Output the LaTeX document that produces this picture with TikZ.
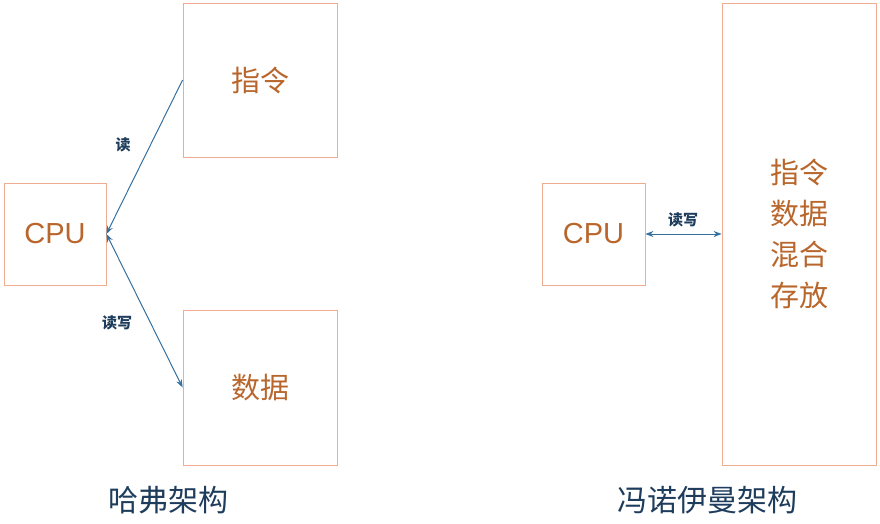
\documentclass[tikz,border=0pt]{standalone}
\usepackage{fontspec}
\setmainfont{Liberation Sans}
\newfontfamily\cjk{Noto Sans CJK SC}
\usetikzlibrary{arrows.meta}
\definecolor{boxline}{RGB}{240,172,145}
\definecolor{boxtext}{RGB}{184,102,44}
\definecolor{wire}{RGB}{52,112,160}
\definecolor{title}{RGB}{30,60,92}
\begin{document}
\begin{tikzpicture}[x=1pt,y=-1pt,
    unit/.style={draw=boxline,line width=0.8pt,text=boxtext,inner sep=0pt,
      font=\fontsize{29}{41}\selectfont\cjk},
    tag/.style={text=title,font=\fontsize{15}{15}\selectfont\cjk\bfseries},
    caption/.style={text=title,font=\fontsize{30}{30}\selectfont\cjk},
    wire/.style={draw=wire,line width=1pt}]
  \useasboundingbox (0,0) rectangle (880,523);
  % Harvard
  \node[unit,minimum width=102pt,minimum height=102pt] (cpuL) at (55,234)
    {\fontsize{29}{29}\selectfont\rmfamily CPU};
  \node[unit,minimum width=154pt,minimum height=154pt] (inst) at (260,80) {指令};
  \node[unit,minimum width=154pt,minimum height=155pt] (data) at (260,387.5) {数据};
  % von Neumann
  \node[unit,minimum width=103pt,minimum height=102pt] (cpuR) at (593.5,234)
    {\fontsize{29}{29}\selectfont\rmfamily CPU};
  \node[unit,minimum width=154pt,minimum height=462pt,align=center] (mem) at (799,234)
    {指令\\数据\\混合\\存放};
  \begin{scope}[wire]
    \draw[-{Stealth[length=8pt,width=6pt]}] (inst.west) to (cpuL.east);
    \draw[{Stealth[length=8pt,width=6pt]}-{Stealth[length=8pt,width=6pt]}]
      (cpuL.east) to (data.west);
    \draw[{Stealth[length=8pt,width=6pt]}-{Stealth[length=8pt,width=6pt]}]
      (cpuR.east) to (mem.west |- cpuR.east);
  \end{scope}
  \node[tag] (rd) at (123,145) {读};
  \node[tag] (rwL) at (117,323) {读写};
  \node[tag] (rwR) at (683,220) {读写};
  \node[caption] (harvard) at (168,500) {哈弗架构};
  \node[caption] (neumann) at (707,500) {冯诺伊曼架构};
\end{tikzpicture}
\end{document}
